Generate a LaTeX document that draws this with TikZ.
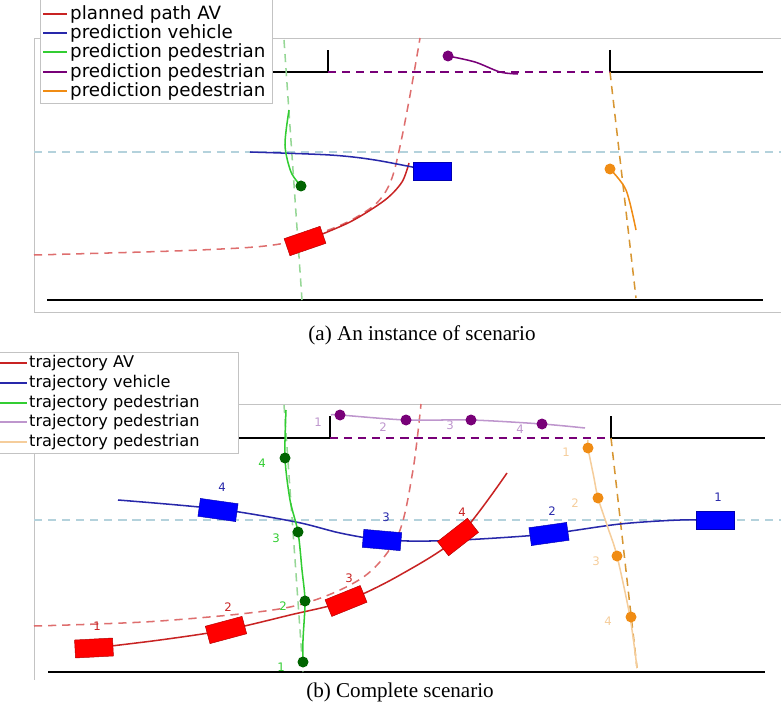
\documentclass[tikz,border=0pt]{standalone}
\usepackage{fontspec}
\setmainfont{Liberation Serif}
\newfontfamily\legendfont{DejaVu Sans}
\usepackage{xcolor}
\definecolor{avred}{RGB}{200,35,35}
\definecolor{avdash}{RGB}{222,110,110}
\definecolor{vehblue}{RGB}{40,40,170}
\definecolor{pedgreen}{RGB}{50,205,50}
\definecolor{greendash}{RGB}{150,215,150}
\definecolor{dotgreen}{RGB}{0,100,0}
\definecolor{pedpurple}{RGB}{120,0,120}
\definecolor{pedplum}{RGB}{190,150,205}
\definecolor{pedorange}{RGB}{240,140,20}
\definecolor{orangedash}{RGB}{215,150,50}
\definecolor{pedwheat}{RGB}{245,205,155}
\definecolor{lanedash}{RGB}{180,210,220}
\definecolor{framegray}{RGB}{195,195,195}

\begin{document}
\begin{tikzpicture}[x=0.03cm,y=-0.03cm,
  path/.style={line width=1.3pt},
  guide/.style={line width=1.3pt, dash pattern=on 7pt off 5pt},
  road/.style={line width=1.4pt},
  sample/.style={line width=1.3pt},
  car/.style={rectangle,minimum width=1.14cm,minimum height=0.54cm,inner sep=0,draw=#1!70!black,fill=#1},
  ped/.style={circle,inner sep=0,minimum size=0.33cm,fill=#1},
  num/.style={inner sep=0,text=#1,font=\legendfont\fontsize{10}{10}\selectfont},
  legA/.style={anchor=west,inner sep=0,font=\legendfont\fontsize{15.6}{16}\selectfont},
  legB/.style={anchor=west,inner sep=0,font=\legendfont\fontsize{13.8}{14}\selectfont},
  captext/.style={inner sep=0,font=\fontsize{18}{18}\selectfont}]
\useasboundingbox (0,0) rectangle (781,708);

% (a) an instance of scenario
\draw[framegray] (781,38) -- (34,38) -- (34,312) -- (781,312);
\draw[lanedash, guide] (34,152) -- (781,152);
\draw[road] (272,72) -- (328,72) -- (328,50);
\draw[road] (610,50) -- (610,72) -- (763,72);
\draw[road] (47,300) -- (763,300);
\draw[pedpurple, guide] (328,72) -- (610,72);
\draw[greendash, guide] (284,40) -- (302,300);
\draw[orangedash, guide] (610,72) -- (636,298);
\draw[avdash, guide] plot[smooth] coordinates {(34,255) (200,250) (285,243) (355,218) (392,178) (420,38)};
\draw[avred, path] plot[smooth] coordinates {(305,241) (350,222) (385,200) (402,182) (409,163)};
\draw[vehblue, path] plot[smooth] coordinates {(250,152) (330,155) (375,160) (432,171)};
\draw[pedgreen, path] plot[smooth] coordinates {(289,110) (285,145) (291,172) (301,186)};
\draw[pedpurple, path] plot[smooth] coordinates {(448,56) (475,62) (500,72) (518,74)};
\draw[pedorange, path] plot[smooth] coordinates {(610,169) (626,190) (636,230)};
\node[car=red, rotate=19] (avA) at (305,241) {};
\node[car=blue] (vehA) at (432,171) {};
\node[ped=dotgreen] (pedA1) at (301,186) {};
\node[ped=pedpurple] (pedA2) at (448,56) {};
\node[ped=pedorange] (pedA3) at (610,169) {};

\draw[framegray, fill=white] (40,-2) rectangle (272,103);
\draw[avred, sample] (43,14) -- (67,14);
\draw[vehblue, sample] (43,33) -- (67,33);
\draw[pedgreen, sample] (43,52) -- (67,52);
\draw[pedpurple, sample] (43,72) -- (67,72);
\draw[pedorange, sample] (43,91) -- (67,91);
\node[legA] (legA1) at (70,14) {planned path AV};
\node[legA] (legA2) at (70,33) {prediction vehicle};
\node[legA] (legA3) at (70,52) {prediction pedestrian};
\node[legA] (legA4) at (70,72) {prediction pedestrian};
\node[legA] (legA5) at (70,91) {prediction pedestrian};
\node[captext] (capA) at (422,335) {(a) An instance of scenario};

% (b) complete scenario
\draw[framegray] (238,404) -- (781,404);
\draw[framegray] (34,453) -- (34,680);
\draw[lanedash, guide] (34,520) -- (781,520);
\draw[road] (238,438) -- (330,438) -- (330,416);
\draw[road] (611,416) -- (611,438) -- (765,438);
\draw[road] (48,672) -- (765,672);
\draw[pedpurple, guide] (330,438) -- (611,438);
\draw[greendash, guide] (284,405) -- (303,672);
\draw[orangedash, guide] (611,438) -- (637,668);
\draw[avdash, guide] plot[smooth] coordinates {(34,626) (160,621) (290,607) (362,578) (398,535) (413,470) (421,404)};
\draw[avred, path] plot[smooth] coordinates {(94,648) (160,640) (226,630) (290,615) (346,601) (400,575) (458,537) (507,473)};
\draw[vehblue, path] plot[smooth] coordinates {(118,500) (218,509) (296,522) (340,533) (382,540) (430,541) (480,539) (548,534) (620,524) (680,520) (730,520)};
\draw[pedgreen, path] plot[smooth] coordinates {(286,410) (285,458) (290,500) (298,532) (302,570) (305,601) (303,640) (303,662)};
\draw[pedplum, path] plot[smooth] coordinates {(331,415) (340,415) (406,420) (471,420) (542,424) (585,428)};
\draw[pedwheat, path] plot[smooth] coordinates {(588,440) (588,448) (594,478) (598,498) (608,528) (617,556) (630,617) (637,668)};

% cars and pedestrians with their time steps
\foreach \x/\y/\r/\lx/\ly [count=\i] in {94/648/3/97/626, 226/630/15/228/607, 346/601/22/349/578, 458/537/38/462/512}
{
  \node[car=red, rotate=\r] (av\i) at (\x,\y) {};
  \node[num=avred] (avn\i) at (\lx,\ly) {\i};
}
\foreach \x/\y/\r/\lx/\ly [count=\i] in {715/520/0/718/497, 549/534/8/552/511, 382/540/-5/386/517, 218/510/-8/222/487}
{
  \node[car=blue, rotate=\r] (veh\i) at (\x,\y) {};
  \node[num=vehblue] (vehn\i) at (\lx,\ly) {\i};
}
\foreach \x/\y/\lx/\ly [count=\i] in {303/662/281/667, 305/601/283/606, 298/532/276/538, 285/458/262/463}
{
  \node[ped=dotgreen] (pedg\i) at (\x,\y) {};
  \node[num=pedgreen] (pedgn\i) at (\lx,\ly) {\i};
}
\foreach \x/\y/\lx/\ly [count=\i] in {340/415/318/422, 406/420/383/427, 471/420/450/425, 542/424/520/429}
{
  \node[ped=pedpurple] (pedp\i) at (\x,\y) {};
  \node[num=pedplum] (pedpn\i) at (\lx,\ly) {\i};
}
\foreach \x/\y/\lx/\ly [count=\i] in {588/448/566/452, 598/498/575/503, 617/556/596/561, 631/617/608/621}
{
  \node[ped=pedorange] (pedo\i) at (\x,\y) {};
  \node[num=pedwheat] (pedon\i) at (\lx,\ly) {\i};
}

\draw[framegray, fill=white] (-2,352) rectangle (238,453);
\draw[avred, sample] (0,363) -- (27,363);
\draw[vehblue, sample] (0,383) -- (27,383);
\draw[pedgreen, sample] (0,403) -- (27,403);
\draw[pedplum, sample] (0,422) -- (27,422);
\draw[pedwheat, sample] (0,442) -- (27,442);
\node[legB] (legB1) at (29,363) {trajectory AV};
\node[legB] (legB2) at (29,383) {trajectory vehicle};
\node[legB] (legB3) at (29,403) {trajectory pedestrian};
\node[legB] (legB4) at (29,422) {trajectory pedestrian};
\node[legB] (legB5) at (29,442) {trajectory pedestrian};
\node[captext] (capB) at (400,692) {(b) Complete scenario};
\end{tikzpicture}
\end{document}
